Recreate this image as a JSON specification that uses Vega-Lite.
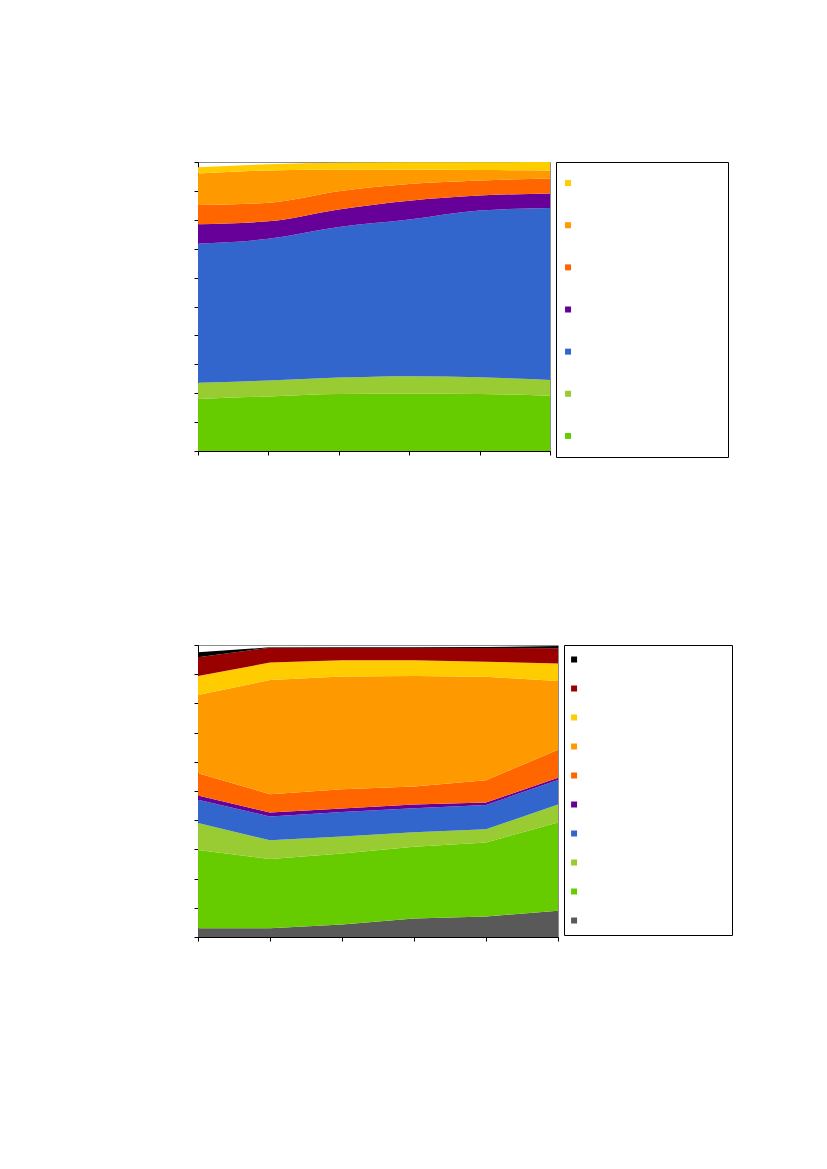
{
  "$schema": "https://vega.github.io/schema/vega-lite/v6.json",
  "padding": {"left": 193, "top": 161, "right": 0, "bottom": 0},
  "background": "white",
  "config": {
    "axis": {"labels": false, "grid": false, "domainColor": "#000000", "tickColor": "#000000", "tickSize": 4, "domainWidth": 1, "tickWidth": 1}
  },
  "datasets": {
    "top": [
      {"t": 0, "s": "s1", "v": 18.0}, {"t": 1, "s": "s1", "v": 18.9}, {"t": 2, "s": "s1", "v": 19.7}, {"t": 3, "s": "s1", "v": 19.8}, {"t": 4, "s": "s1", "v": 19.7}, {"t": 5, "s": "s1", "v": 19.1},
      {"t": 0, "s": "s2", "v": 5.6}, {"t": 1, "s": "s2", "v": 5.5}, {"t": 2, "s": "s2", "v": 5.7}, {"t": 3, "s": "s2", "v": 6.1}, {"t": 4, "s": "s2", "v": 5.8}, {"t": 5, "s": "s2", "v": 5.5},
      {"t": 0, "s": "s3", "v": 48.2}, {"t": 1, "s": "s3", "v": 49.0}, {"t": 2, "s": "s3", "v": 52.1}, {"t": 3, "s": "s3", "v": 54.2}, {"t": 4, "s": "s3", "v": 57.7}, {"t": 5, "s": "s3", "v": 59.5},
      {"t": 0, "s": "s4", "v": 6.7}, {"t": 1, "s": "s4", "v": 6.1}, {"t": 2, "s": "s4", "v": 6.1}, {"t": 3, "s": "s4", "v": 6.5}, {"t": 4, "s": "s4", "v": 5.2}, {"t": 5, "s": "s4", "v": 5.0},
      {"t": 0, "s": "s5", "v": 6.6}, {"t": 1, "s": "s5", "v": 6.4}, {"t": 2, "s": "s5", "v": 6.3}, {"t": 3, "s": "s5", "v": 5.8}, {"t": 4, "s": "s5", "v": 5.2}, {"t": 5, "s": "s5", "v": 5.2},
      {"t": 0, "s": "s6", "v": 10.9}, {"t": 1, "s": "s6", "v": 11.2}, {"t": 2, "s": "s6", "v": 7.5}, {"t": 3, "s": "s6", "v": 5.0}, {"t": 4, "s": "s6", "v": 3.6}, {"t": 5, "s": "s6", "v": 2.8},
      {"t": 0, "s": "s7", "v": 2.2}, {"t": 1, "s": "s7", "v": 2.1}, {"t": 2, "s": "s7", "v": 2.3}, {"t": 3, "s": "s7", "v": 2.5}, {"t": 4, "s": "s7", "v": 2.7}, {"t": 5, "s": "s7", "v": 2.9}
    ],
    "bottom": [
      {"t": 0, "s": "s01", "v": 3.0}, {"t": 1, "s": "s01", "v": 3.0}, {"t": 2, "s": "s01", "v": 4.3}, {"t": 3, "s": "s01", "v": 6.3}, {"t": 4, "s": "s01", "v": 7.0}, {"t": 5, "s": "s01", "v": 9.0},
      {"t": 0, "s": "s02", "v": 26.8}, {"t": 1, "s": "s02", "v": 23.7}, {"t": 2, "s": "s02", "v": 24.3}, {"t": 3, "s": "s02", "v": 24.6}, {"t": 4, "s": "s02", "v": 25.4}, {"t": 5, "s": "s02", "v": 30.2},
      {"t": 0, "s": "s03", "v": 9.2}, {"t": 1, "s": "s03", "v": 6.4}, {"t": 2, "s": "s03", "v": 5.8}, {"t": 3, "s": "s03", "v": 5.0}, {"t": 4, "s": "s03", "v": 4.5}, {"t": 5, "s": "s03", "v": 6.2},
      {"t": 0, "s": "s04", "v": 8.0}, {"t": 1, "s": "s04", "v": 8.2}, {"t": 2, "s": "s04", "v": 8.4}, {"t": 3, "s": "s04", "v": 8.2}, {"t": 4, "s": "s04", "v": 8.3}, {"t": 5, "s": "s04", "v": 8.4},
      {"t": 0, "s": "s05", "v": 1.5}, {"t": 1, "s": "s05", "v": 1.3}, {"t": 2, "s": "s05", "v": 1.2}, {"t": 3, "s": "s05", "v": 1.3}, {"t": 4, "s": "s05", "v": 0.9}, {"t": 5, "s": "s05", "v": 0.7},
      {"t": 0, "s": "s06", "v": 7.6}, {"t": 1, "s": "s06", "v": 6.3}, {"t": 2, "s": "s06", "v": 6.6}, {"t": 3, "s": "s06", "v": 6.1}, {"t": 4, "s": "s06", "v": 7.6}, {"t": 5, "s": "s06", "v": 9.6},
      {"t": 0, "s": "s07", "v": 26.8}, {"t": 1, "s": "s07", "v": 39.1}, {"t": 2, "s": "s07", "v": 38.6}, {"t": 3, "s": "s07", "v": 37.9}, {"t": 4, "s": "s07", "v": 35.4}, {"t": 5, "s": "s07", "v": 23.6},
      {"t": 0, "s": "s08", "v": 6.5}, {"t": 1, "s": "s08", "v": 6.0}, {"t": 2, "s": "s08", "v": 5.6}, {"t": 3, "s": "s08", "v": 5.4}, {"t": 4, "s": "s08", "v": 5.2}, {"t": 5, "s": "s08", "v": 6.0},
      {"t": 0, "s": "s09", "v": 6.4}, {"t": 1, "s": "s09", "v": 5.1}, {"t": 2, "s": "s09", "v": 4.2}, {"t": 3, "s": "s09", "v": 4.2}, {"t": 4, "s": "s09", "v": 4.7}, {"t": 5, "s": "s09", "v": 5.2},
      {"t": 0, "s": "s10", "v": 1.7}, {"t": 1, "s": "s10", "v": 0.1}, {"t": 2, "s": "s10", "v": 0.2}, {"t": 3, "s": "s10", "v": 0.2}, {"t": 4, "s": "s10", "v": 0.3}, {"t": 5, "s": "s10", "v": 0.8}
    ]
  },
  "spacing": 186,
  "resolve": {"scale": {"color": "independent"}},
  "vconcat": [
    {
      "spacing": 4,
      "hconcat": [
        {
          "width": 352,
          "height": 289,
          "view": {"stroke": "#8c8c8c"},
          "data": {"name": "top"},
          "mark": {"type": "area", "interpolate": "monotone", "opacity": 1},
          "encoding": {
            "x": {"field": "t", "type": "quantitative", "title": null, "scale": {"domain": [0, 5], "nice": false}, "axis": {"values": [0, 1, 2, 3, 4, 5]}},
            "y": {"field": "v", "type": "quantitative", "title": null, "stack": "zero", "scale": {"domain": [0, 100], "nice": false}, "axis": {"values": [0, 10, 20, 30, 40, 50, 60, 70, 80, 90, 100]}},
            "color": {"field": "s", "type": "nominal", "legend": null, "scale": {"domain": ["s1", "s2", "s3", "s4", "s5", "s6", "s7"], "range": ["#66cc00", "#99cc33", "#3366cc", "#660099", "#ff6600", "#ff9900", "#ffcc00"]}},
            "order": {"field": "s", "sort": "ascending"}
          }
        },
        {
          "width": 172,
          "height": 295,
          "view": {"stroke": "#000000"},
          "data": {"name": "top"},
          "transform": [{"filter": "datum.t == 0"}],
          "mark": {"type": "point", "shape": "square", "filled": true, "size": 36, "opacity": 1},
          "encoding": {
            "x": {"datum": 7, "type": "quantitative", "scale": {"domain": [0, 100]}, "axis": null},
            "y": {"field": "s", "type": "nominal", "sort": "descending", "scale": {"type": "point", "padding": 0.5}, "axis": null},
            "color": {"field": "s", "type": "nominal", "legend": null, "scale": {"domain": ["s1", "s2", "s3", "s4", "s5", "s6", "s7"], "range": ["#66cc00", "#99cc33", "#3366cc", "#660099", "#ff6600", "#ff9900", "#ffcc00"]}}
          }
        }
      ]
    },
    {
      "spacing": 4,
      "hconcat": [
        {
          "width": 360,
          "height": 292,
          "view": {"stroke": "#8c8c8c"},
          "data": {"name": "bottom"},
          "mark": {"type": "area", "opacity": 1},
          "encoding": {
            "x": {"field": "t", "type": "quantitative", "title": null, "scale": {"domain": [0, 5], "nice": false}, "axis": {"values": [0, 1, 2, 3, 4, 5]}},
            "y": {"field": "v", "type": "quantitative", "title": null, "stack": "zero", "scale": {"domain": [0, 100], "nice": false}, "axis": {"values": [0, 10, 20, 30, 40, 50, 60, 70, 80, 90, 100]}},
            "color": {"field": "s", "type": "nominal", "legend": null, "scale": {"domain": ["s01", "s02", "s03", "s04", "s05", "s06", "s07", "s08", "s09", "s10"], "range": ["#595959", "#66cc00", "#99cc33", "#3366cc", "#660099", "#ff6600", "#ff9900", "#ffcc00", "#990000", "#000000"]}},
            "order": {"field": "s", "sort": "ascending"}
          }
        },
        {
          "width": 168,
          "height": 290,
          "view": {"stroke": "#000000"},
          "data": {"name": "bottom"},
          "transform": [{"filter": "datum.t == 0"}],
          "mark": {"type": "point", "shape": "square", "filled": true, "size": 36, "opacity": 1},
          "encoding": {
            "x": {"datum": 6, "type": "quantitative", "scale": {"domain": [0, 100]}, "axis": null},
            "y": {"field": "s", "type": "nominal", "sort": "descending", "scale": {"type": "point", "padding": 0.5}, "axis": null},
            "color": {"field": "s", "type": "nominal", "legend": null, "scale": {"domain": ["s01", "s02", "s03", "s04", "s05", "s06", "s07", "s08", "s09", "s10"], "range": ["#595959", "#66cc00", "#99cc33", "#3366cc", "#660099", "#ff6600", "#ff9900", "#ffcc00", "#990000", "#000000"]}}
          }
        }
      ]
    }
  ]
}
